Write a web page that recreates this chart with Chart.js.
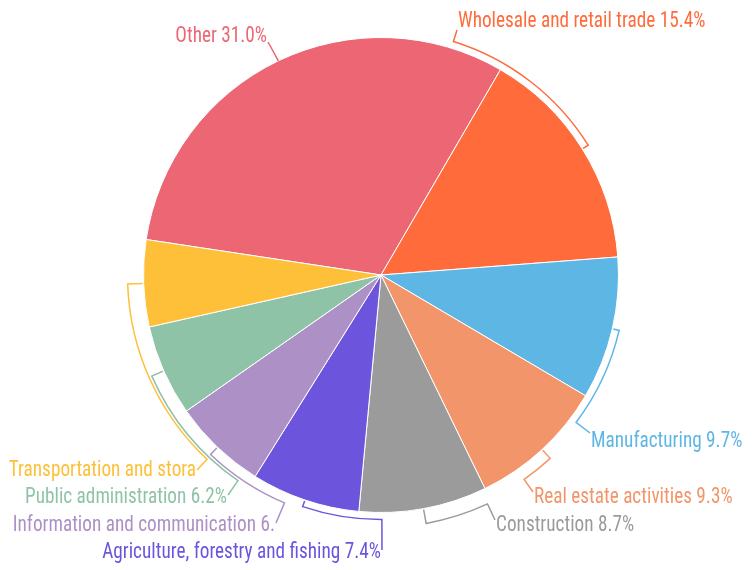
<!DOCTYPE html>
<html>
<head>
<meta charset="utf-8">
<script src="https://cdn.jsdelivr.net/npm/chart.js"></script>
<style>
  html, body { margin: 0; padding: 0; background: #fff; }
  #wrap { width: 753px; height: 570px; position: relative; }
</style>
</head>
<body>
<div id="wrap"><canvas id="myChart"></canvas></div>
<script>
// data
const categories = ['Other', 'Wholesale and retail trade', 'Manufacturing', 'Real estate activities',
  'Construction', 'Agriculture, forestry and fishing', 'Information and communication',
  'Public administration', 'Transportation and storage'];
const shares = [31.0, 15.4, 9.7, 9.3, 8.7, 7.4, 6.4, 6.2, 5.9];
const colors = ['#ec6674', '#ff6b3b', '#5eb6e4', '#f2956a', '#9b9b9b', '#6c54dc', '#ac90c6', '#8fc3a8', '#fdc038'];

// where each label sits (anchor of the leader line, text middle, ring offset of the bracket)
const labelLayout = [
  { ax: 268, ay: 42, ty: 36, ring: 0, align: 'right' },
  { ax: 457, ay: 30, ty: 21, ring: 7, align: 'left' },
  { ax: 590, ay: 433, ty: 441, ring: 7, align: 'left' },
  { ax: 533, ay: 492, ty: 497, ring: 12, align: 'left' },
  { ax: 495, ay: 520, ty: 525, ring: 15, align: 'left' },
  { ax: 382, ay: 550, ty: 552, ring: 7, align: 'right' },
  { ax: 276, ay: 523, ty: 525, ring: 10, align: 'right' },
  { ax: 228, ay: 495, ty: 497, ring: 13, align: 'right' },
  { ax: 197, ay: 470, ty: 470, ring: 16, align: 'right' }
];

const labelFont = '22px "Liberation Sans Narrow", "Roboto Condensed", "Arial Narrow", "Liberation Sans", sans-serif';
const squeeze = 0.875;
const minX = 7;

/*  leader lines + labels  */
const edgeLabels = {
  id: 'edgeLabels',
  afterDatasetsDraw(chart) {
    const ctx = chart.ctx;
    const arcs = chart.getDatasetMeta(0).data;
    ctx.save();
    ctx.font = labelFont;
    ctx.lineWidth = 1.5;
    arcs.forEach((a, i) => {
      const L = labelLayout[i];
      const cx = a.x, cy = a.y, R = a.outerRadius;
      const mid = (a.startAngle + a.endAngle) / 2;
      const end = Math.atan2(L.ay - cy, L.ax - cx);
      let d = end - mid;
      while (d > Math.PI) d -= 2 * Math.PI;
      while (d < -Math.PI) d += 2 * Math.PI;
      const rr = R + L.ring;
      ctx.strokeStyle = colors[i];
      ctx.beginPath();
      ctx.moveTo(cx + Math.cos(mid) * (R + 1), cy + Math.sin(mid) * (R + 1));
      ctx.lineTo(cx + Math.cos(mid) * rr, cy + Math.sin(mid) * rr);
      if (L.ring > 0) ctx.arc(cx, cy, rr, mid, mid + d, d < 0);
      ctx.lineTo(L.ax, L.ay);
      ctx.stroke();

      let txt = categories[i] + ' ' + shares[i].toFixed(1) + '%';
      const tx = L.align === 'left' ? L.ax + 1 : L.ax - 1;
      if (L.align === 'right') {
        while (txt.length > 1 && tx - ctx.measureText(txt).width * squeeze < minX) txt = txt.slice(0, -1);
      }
      ctx.save();
      ctx.translate(tx, L.ty);
      ctx.scale(squeeze, 1);
      ctx.fillStyle = colors[i];
      ctx.textAlign = L.align;
      ctx.textBaseline = 'middle';
      ctx.fillText(txt, 0, 0);
      ctx.restore();
    });
    ctx.restore();
  }
};

new Chart(document.getElementById('myChart'), {
  type: 'pie',
  data: {
    labels: categories,
    datasets: [{
      data: shares,
      backgroundColor: colors,
      borderColor: '#ffffff',
      borderWidth: 1
    }]
  },
  options: {
    responsive: true,
    maintainAspectRatio: false,
    animation: false,
    rotation: -81.4,
    layout: { padding: { top: 37, bottom: 57, left: 143, right: 134 } },
    plugins: {
      legend: { display: false },
      tooltip: { enabled: false }
    }
  },
  plugins: [edgeLabels]
});
</script>
</body>
</html>
